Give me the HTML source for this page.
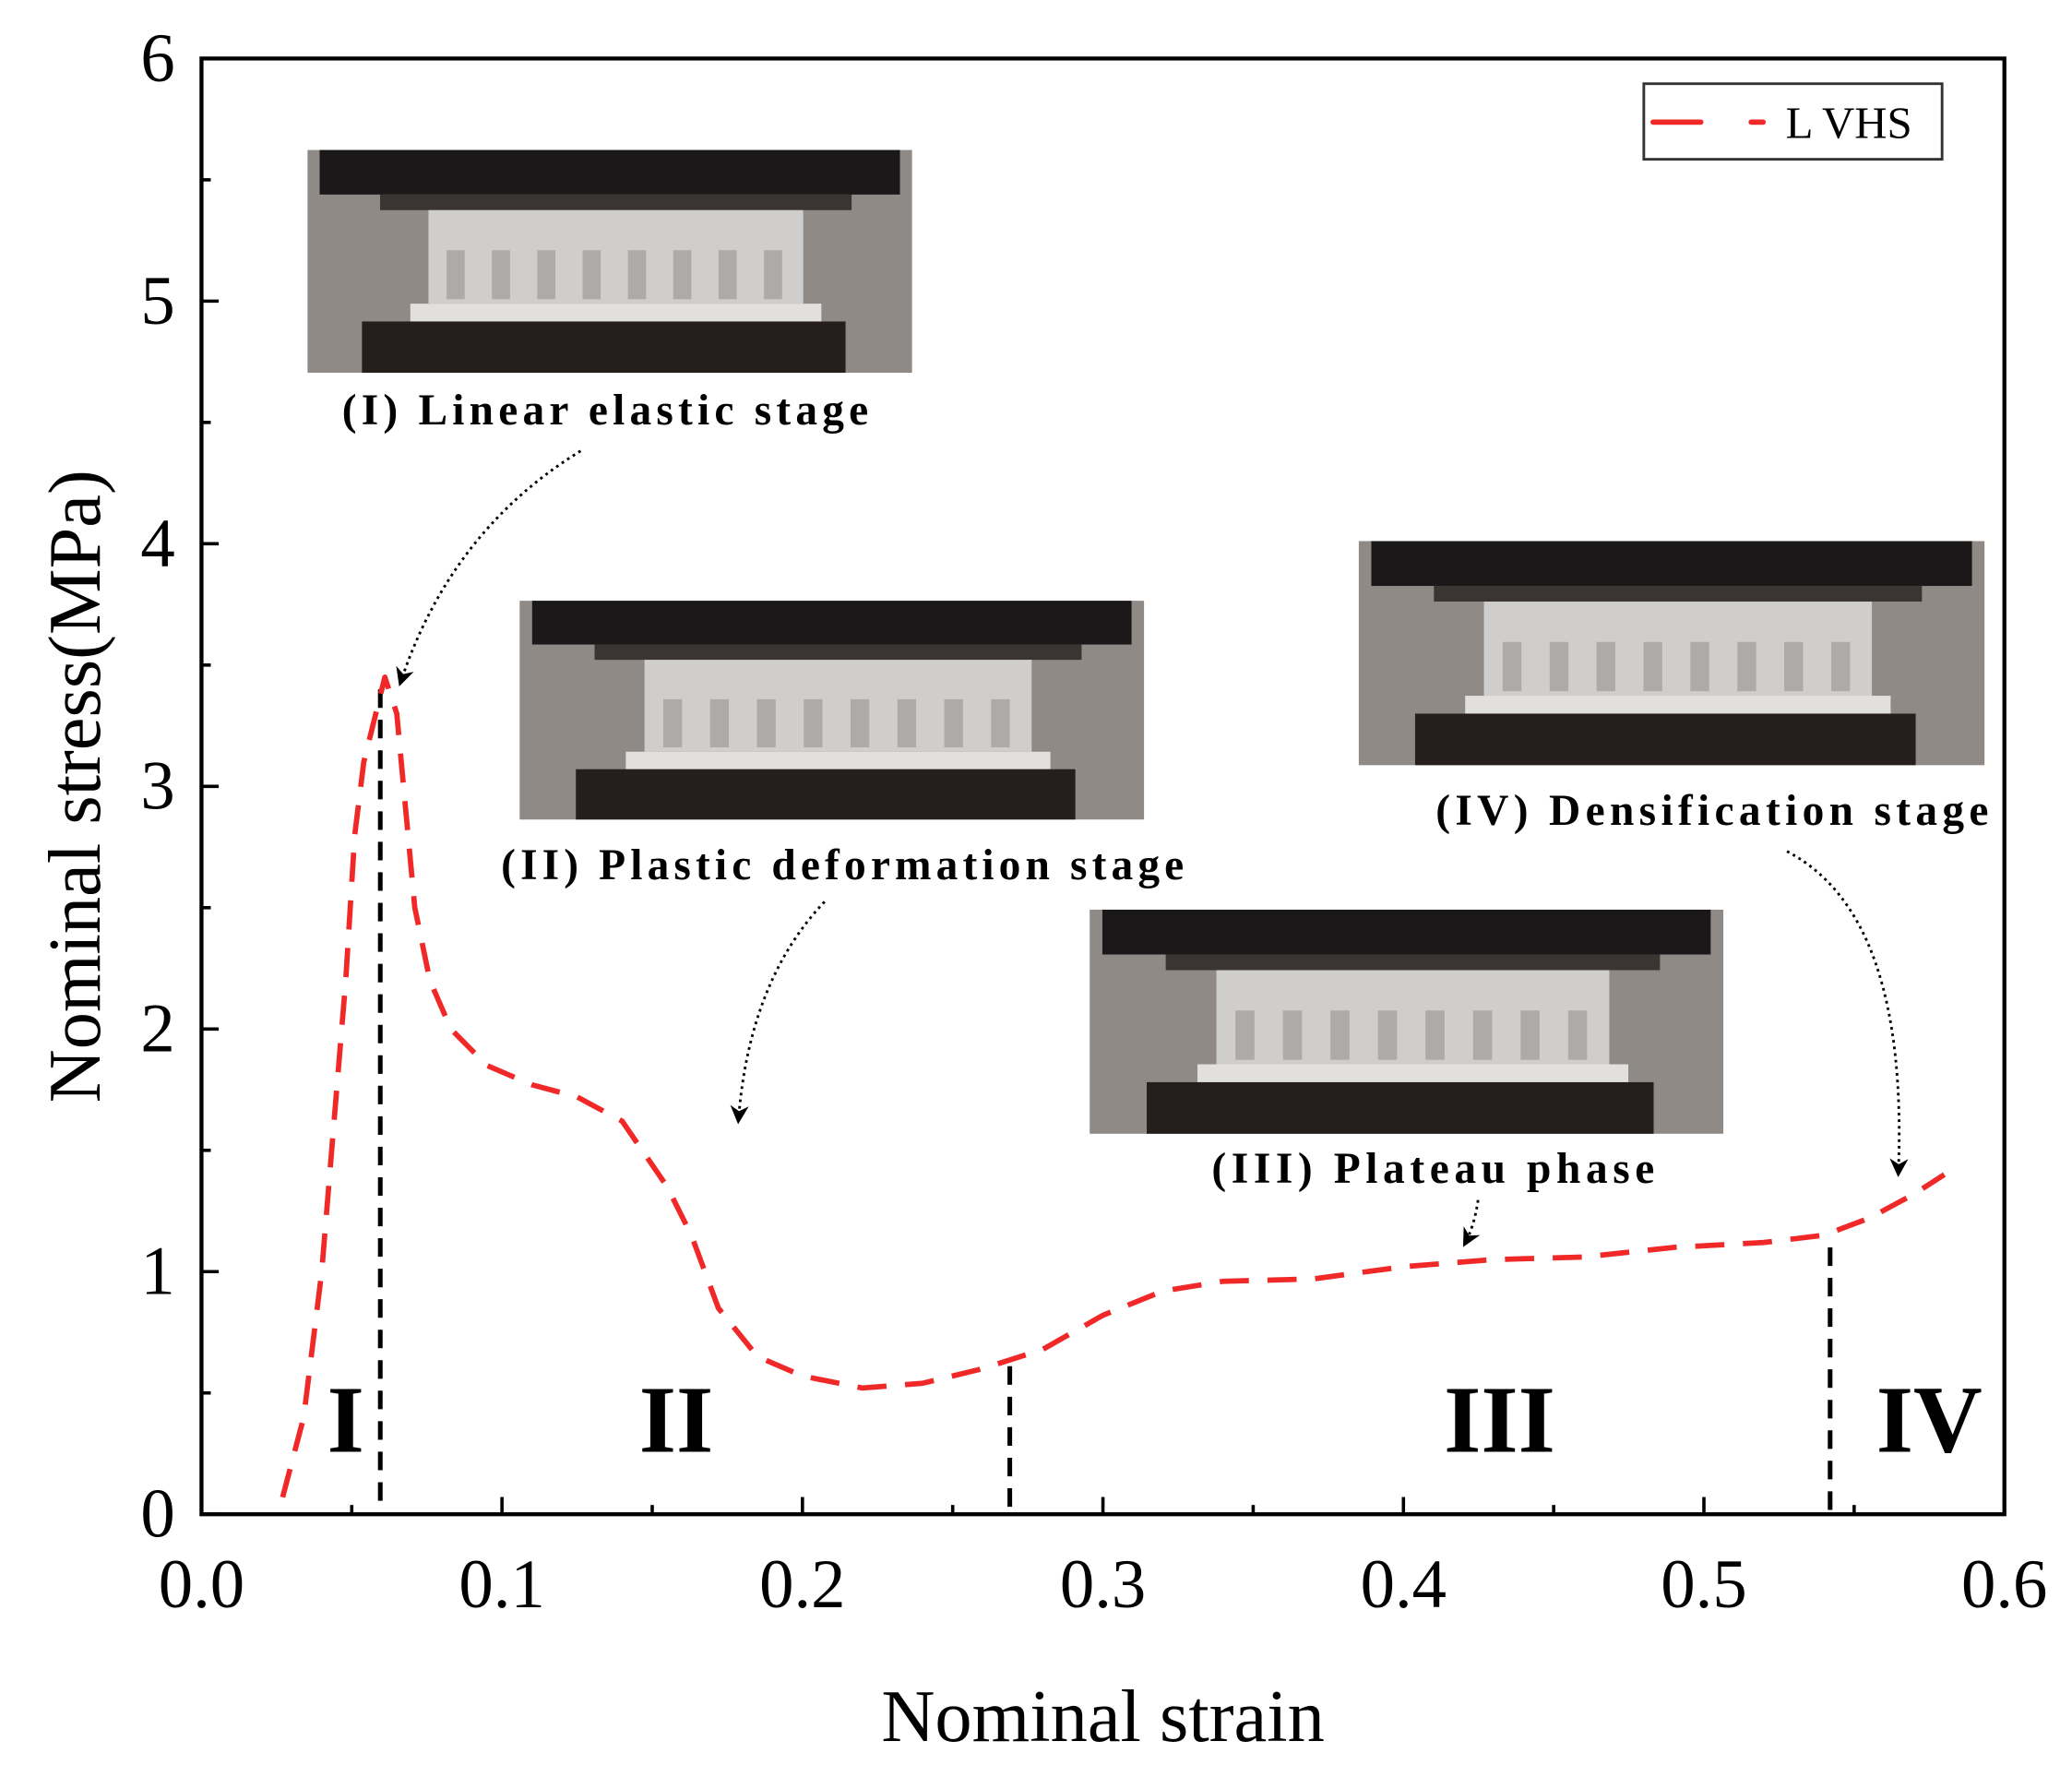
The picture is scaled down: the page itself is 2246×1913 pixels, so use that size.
<!DOCTYPE html>
<html><head><meta charset="utf-8"><style>html,body{margin:0;padding:0;background:#fff}svg{display:block}</style></head>
<body>
<svg id="chart" width="2246" height="1913" viewBox="0 0 1563 1331" xmlns="http://www.w3.org/2000/svg" font-family="'Liberation Serif', serif">
<defs>
<marker id="ah" viewBox="0 0 10 10" refX="8" refY="5" markerWidth="7" markerHeight="7" orient="auto"><path d="M0,0 L10,5 L0,10 L3,5 z" fill="#000"/></marker>
</defs>
<g id="photos"></g>
<g id="plot"></g>
</svg>
<script>
const strain=[0.027,0.034,0.040,0.044,0.048,0.051,0.054,0.058,0.061,0.065,0.068,0.071,0.076,0.083,0.095,0.11,0.125,0.14,0.155,0.163,0.172,0.185,0.2,0.22,0.24,0.26,0.28,0.3,0.32,0.34,0.37,0.4,0.43,0.46,0.49,0.52,0.54,0.555,0.57,0.58];
const stress=[0.07,0.4,1.0,1.6,2.2,2.8,3.1,3.3,3.45,3.3,2.9,2.5,2.2,2.0,1.85,1.77,1.72,1.62,1.35,1.15,0.85,0.65,0.57,0.52,0.54,0.6,0.68,0.82,0.92,0.96,0.97,1.02,1.05,1.06,1.1,1.12,1.15,1.22,1.32,1.4];
const xTicks=["0.0","0.1","0.2","0.3","0.4","0.5","0.6"];
const yTicks=["0","1","2","3","4","5","6"];
const stageX=[0.0595,0.269,0.542];
const stageTop=[3.4,0.61,1.1];
const stageLabels=["I","II","III","IV"];
const stageLabelX=[0.048,0.158,0.432,0.575];

const L=152,R=1512,T=44,B=1142;
const sx=v=>L+(v-0)/0.6*(R-L);
const sy=v=>B-v/6*(B-T);
const NS="http://www.w3.org/2000/svg";
const plot=document.getElementById('plot');
function mk(tag,attrs,parent){const e=document.createElementNS(NS,tag);for(const k in attrs)e.setAttribute(k,attrs[k]);(parent||plot).appendChild(e);return e;}

// photos
const photos=document.getElementById('photos');
const photoBoxes=[[232,113,456,168],[392,453,471,165],[822,686,478,169],[1025,408,472,169]];
const photoNames=['photo-linear-elastic','photo-plastic-deformation','photo-plateau','photo-densification'];
photoBoxes.forEach((b,i)=>{
  const [x,y,w,h]=b;
  const g=mk('g',{},photos);
  
  
  mk('rect',{x:x,y:y,width:w,height:h,fill:'#8f8a86'},g);
  mk('rect',{x:x+w*0.02,y:y,width:w*0.96,height:h*0.2,fill:'#1a1818'},g);
  mk('rect',{x:x+w*0.12,y:y+h*0.2,width:w*0.78,height:h*0.07,fill:'#3a3533'},g);
  mk('rect',{x:x+w*0.2,y:y+h*0.27,width:w*0.62,height:h*0.42,fill:'#d0cecc'},g);
  for(let k=0;k<8;k++)mk('rect',{x:x+w*(0.23+k*0.075),y:y+h*0.45,width:w*0.03,height:h*0.22,fill:'#aeaaa8'},g);
  mk('rect',{x:x+w*0.17,y:y+h*0.69,width:w*0.68,height:h*0.08,fill:'#e2e0de'},g);
  mk('rect',{x:x+w*0.09,y:y+h*0.77,width:w*0.8,height:h*0.23,fill:'#251e1d'},g);
});

// axes
const ax=mk('rect',{x:L,y:T,width:R-L,height:B-T,fill:'none',stroke:'#000','stroke-width':3});


for(let i=0;i<=12;i++){
  const v=i*0.05,x=sx(v),len=i%2?7:13;
  mk('line',{x1:x,y1:B,x2:x,y2:B-len,stroke:'#000','stroke-width':2.5});
}
xTicks.forEach((t,i)=>{
  const e=mk('text',{x:sx(i*0.1),y:B+70,'text-anchor':'middle','font-size':52},plot);e.textContent=t;
  
  
});
for(let i=0;i<=12;i++){
  const v=i*0.5,y=sy(v),len=i%2?7:13;
  mk('line',{x1:L,y1:y,x2:L+len,y2:y,stroke:'#000','stroke-width':2.5});
}
yTicks.forEach((t,i)=>{
  const e=mk('text',{x:L-20,y:sy(i)+17,'text-anchor':'end','font-size':52});e.textContent=t;
  
  
});
let xt=mk('text',{x:(L+R)/2,y:1313,'text-anchor':'middle','font-size':56});xt.textContent='Nominal strain';


let yt=mk('text',{x:0,y:0,'text-anchor':'middle','font-size':56,transform:`translate(75,${(T+B)/2}) rotate(-90)`});yt.textContent='Nominal stress(MPa)';



// stage lines
stageX.forEach((v,i)=>{
  const l=mk('line',{x1:sx(v),y1:sy(stageTop[i]),x2:sx(v),y2:B,stroke:'#000','stroke-width':3.5,'stroke-dasharray':'14 9'});
  
  
});
stageLabels.forEach((s,i)=>{
  const e=mk('text',{x:sx(stageLabelX[i]),y:1095,'text-anchor':'middle','font-size':72,'font-weight':'bold'});e.textContent=s;
  
  
});

// curve
let d='';strain.forEach((v,i)=>{d+=(i?'L':'M')+sx(v).toFixed(1)+','+sy(stress[i]).toFixed(1);});
const cv=mk('path',{d:d,fill:'none',stroke:'#f02828','stroke-width':4,'stroke-dasharray':'22 14','stroke-linejoin':'round'});



// captions
const caps=[[258,320,397,'(I)  Linear elastic stage'],[378,663,515,'(II)  Plastic deformation stage'],[914,892,334,'(III)  Plateau phase'],[1083,622,417,'(IV)  Densification stage']];
caps.forEach(c=>{const e=mk('text',{x:c[0],y:c[1],'font-size':33,'font-weight':'bold',textLength:c[2],lengthAdjust:'spacing'});e.textContent=c[3];
  
  });

// arrows
const arrows=['M438,340 Q340,400 302,515','M622,680 Q565,740 557,845','M1115,905 Q1112,925 1105,938','M1348,642 Q1440,690 1432,885'];
arrows.forEach(a=>{const e=mk('path',{d:a,fill:'none',stroke:'#000','stroke-width':2,'stroke-dasharray':'2 3','marker-end':'url(#ah)'});
  
  });

// legend
const lg=mk('g',{});


mk('rect',{x:1240,y:63,width:225,height:57,fill:'#fff',stroke:'#333','stroke-width':2},lg);
mk('line',{x1:1247,y1:92,x2:1330,y2:92,stroke:'#f02828','stroke-width':4,'stroke-dasharray':'36 38','stroke-linecap':'round'},lg);
const lt=mk('text',{x:1347,y:104,'font-size':34},lg);lt.textContent='L VHS';


</script>
</body></html>
